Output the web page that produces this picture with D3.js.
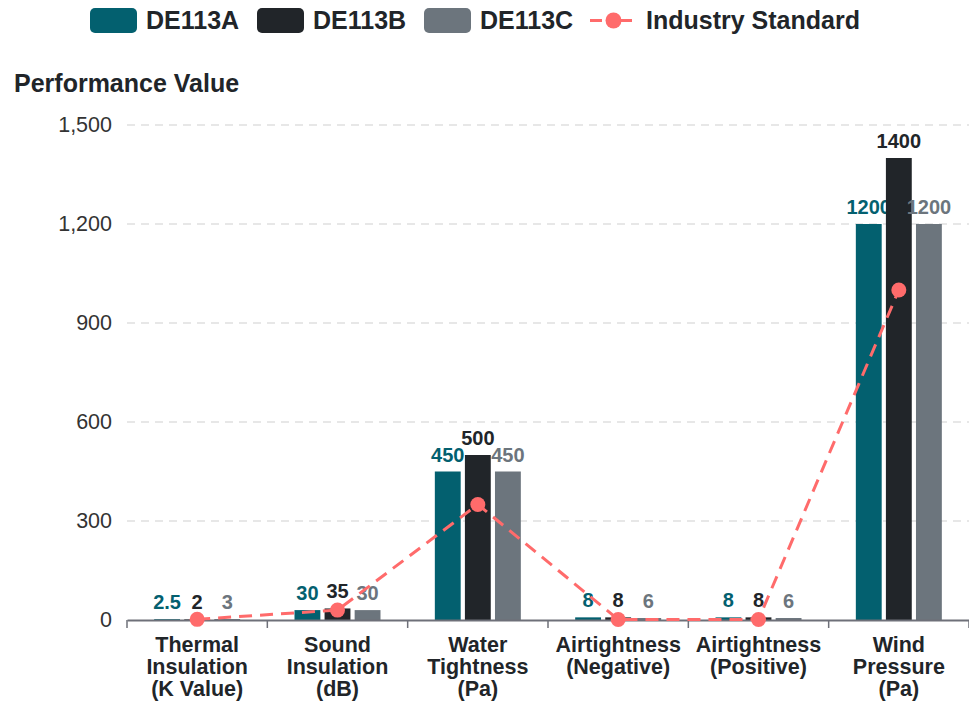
<!DOCTYPE html>
<html>
<head>
<meta charset="utf-8">
<script src="https://cdn.jsdelivr.net/npm/d3@7"></script>
<style>
  body { margin: 0; background: #fff; }
  svg { font-family: "Liberation Sans", Arial, sans-serif; }
</style>
</head>
<body>
<div id="chart"></div>
<script>
// chart data
var categories = [
  ['Thermal', 'Insulation', '(K Value)'],
  ['Sound', 'Insulation', '(dB)'],
  ['Water', 'Tightness', '(Pa)'],
  ['Airtightness', '(Negative)'],
  ['Airtightness', '(Positive)'],
  ['Wind', 'Pressure', '(Pa)']
];
var seriesNames = ['DE113A', 'DE113B', 'DE113C'];
var de113a = [2.5, 30, 450, 8, 8, 1200];
var de113b = [2, 35, 500, 8, 8, 1400];
var de113c = [3, 30, 450, 6, 6, 1200];
var industryStandard = [2, 30, 350, 1.5, 1.5, 1000];
var yTicks = [0, 300, 600, 900, 1200, 1500];

var colors = ['#03606F', '#212529', '#6C757D'];
var lineColor = '#FF6B6B';

var width = 969;
var height = 701;
var plotLeft = 127;
var plotRight = 969;
var plotTop = 125;
var plotBottom = 620;

var svg = d3.select('#chart')
  .append('svg')
  .attr('width', width)
  .attr('height', height);

var xScale = d3.scaleBand()
  .domain(d3.range(categories.length))
  .range([plotLeft, plotRight]);

var yScale = d3.scaleLinear()
  .domain([0, 1500])
  .range([plotBottom, plotTop]);

var barScale = d3.scaleBand()
  .domain(d3.range(seriesNames.length))
  .range([-43, 43])
  .paddingInner(0.14)
  .paddingOuter(0);

// grid lines
svg.append('g')
  .selectAll('line')
  .data(yTicks.filter(function(d) { return d > 0; }))
  .enter()
  .append('line')
  .attr('x1', plotLeft)
  .attr('x2', plotRight)
  .attr('y1', function(d) { return yScale(d); })
  .attr('y2', function(d) { return yScale(d); })
  .attr('stroke', '#E0E0E0')
  .attr('stroke-width', 1.5)
  .attr('stroke-dasharray', '8,6');

// y axis labels
var yAxis = d3.axisLeft(yScale)
  .tickValues(yTicks)
  .tickSize(0)
  .tickPadding(15)
  .tickFormat(d3.format(','));

svg.append('g')
  .attr('transform', 'translate(' + plotLeft + ',0)')
  .call(yAxis)
  .call(function(g) { g.select('.domain').remove(); })
  .selectAll('text')
  .attr('font-size', 21.5)
  .attr('fill', '#333')
  .attr('font-family', '"Liberation Sans", Arial, sans-serif');

// title
svg.append('text')
  .attr('x', 14)
  .attr('y', 92)
  .attr('font-size', 25)
  .attr('font-weight', 'bold')
  .attr('fill', '#212529')
  .text('Performance Value');

// bars
var allSeries = [de113a, de113b, de113c];
allSeries.forEach(function(values, s) {
  var g = svg.append('g');
  g.selectAll('rect')
    .data(values)
    .enter()
    .append('rect')
    .attr('x', function(d, i) { return xScale(i) + xScale.bandwidth() / 2 + barScale(s); })
    .attr('width', barScale.bandwidth())
    .attr('y', function(d) { return yScale(d); })
    .attr('height', function(d) { return plotBottom - yScale(d); })
    .attr('fill', colors[s]);

  g.selectAll('text')
    .data(values)
    .enter()
    .append('text')
    .attr('x', function(d, i) { return xScale(i) + xScale.bandwidth() / 2 + barScale(s) + barScale.bandwidth() / 2; })
    .attr('y', function(d) { return yScale(d) - 10; })
    .attr('text-anchor', 'middle')
    .attr('font-size', 20)
    .attr('font-weight', 'bold')
    .attr('fill', colors[s])
    .text(function(d) { return d; });
});

// x axis
var xAxis = d3.axisBottom(xScale)
  .tickSize(0)
  .tickFormat('');

var xg = svg.append('g')
  .attr('transform', 'translate(0,' + plotBottom + ')')
  .call(xAxis);
xg.select('.domain')
  .attr('stroke', '#6E7079')
  .attr('stroke-width', 2);

svg.append('g')
  .selectAll('line')
  .data(d3.range(categories.length + 1))
  .enter()
  .append('line')
  .attr('x1', function(i) { return i < categories.length ? xScale(i) : plotRight; })
  .attr('x2', function(i) { return i < categories.length ? xScale(i) : plotRight; })
  .attr('y1', plotBottom)
  .attr('y2', plotBottom + 8)
  .attr('stroke', '#6E7079')
  .attr('stroke-width', 1.5);

// category labels
var catLabels = svg.append('g')
  .selectAll('text')
  .data(categories)
  .enter()
  .append('text')
  .attr('text-anchor', 'middle')
  .attr('font-size', 21.5)
  .attr('font-weight', 'bold')
  .attr('fill', '#212529');

catLabels.selectAll('tspan')
  .data(function(d, i) { return d.map(function(t) { return { t: t, i: i }; }); })
  .enter()
  .append('tspan')
  .attr('x', function(d) { return xScale(d.i) + xScale.bandwidth() / 2; })
  .attr('y', function(d, j) { return 652 + j * 22; })
  .text(function(d) { return d.t; });

// industry standard line
var line = d3.line()
  .x(function(d, i) { return xScale(i) + xScale.bandwidth() / 2; })
  .y(function(d) { return yScale(d); });

svg.append('path')
  .datum(industryStandard)
  .attr('d', line)
  .attr('fill', 'none')
  .attr('stroke', lineColor)
  .attr('stroke-width', 3)
  .attr('stroke-dasharray', '13,8');

svg.append('g')
  .selectAll('circle')
  .data(industryStandard)
  .enter()
  .append('circle')
  .attr('cx', function(d, i) { return xScale(i) + xScale.bandwidth() / 2; })
  .attr('cy', function(d) { return yScale(d); })
  .attr('r', 7.5)
  .attr('fill', lineColor);

// legend
var legendItems = [
  { name: 'DE113A', color: colors[0], x: 90 },
  { name: 'DE113B', color: colors[1], x: 257 },
  { name: 'DE113C', color: colors[2], x: 424 },
  { name: 'Industry Standard', color: lineColor, x: 590, line: true }
];

var legend = svg.append('g')
  .selectAll('g')
  .data(legendItems)
  .enter()
  .append('g')
  .attr('transform', function(d) { return 'translate(' + d.x + ',8)'; });

legend.filter(function(d) { return !d.line; })
  .append('rect')
  .attr('width', 47)
  .attr('height', 25)
  .attr('rx', 5)
  .attr('fill', function(d) { return d.color; });

var lineItem = legend.filter(function(d) { return d.line; });
lineItem.append('line')
  .attr('x1', 0)
  .attr('x2', 47)
  .attr('y1', 12.5)
  .attr('y2', 12.5)
  .attr('stroke', lineColor)
  .attr('stroke-width', 3)
  .attr('stroke-dasharray', '12,8,2,8');
lineItem.append('circle')
  .attr('cx', 23.5)
  .attr('cy', 12.5)
  .attr('r', 8)
  .attr('fill', lineColor);

legend.append('text')
  .attr('x', 56)
  .attr('y', 21)
  .attr('font-size', 25)
  .attr('font-weight', 'bold')
  .attr('fill', '#212529')
  .text(function(d) { return d.name; });
</script>
</body>
</html>
